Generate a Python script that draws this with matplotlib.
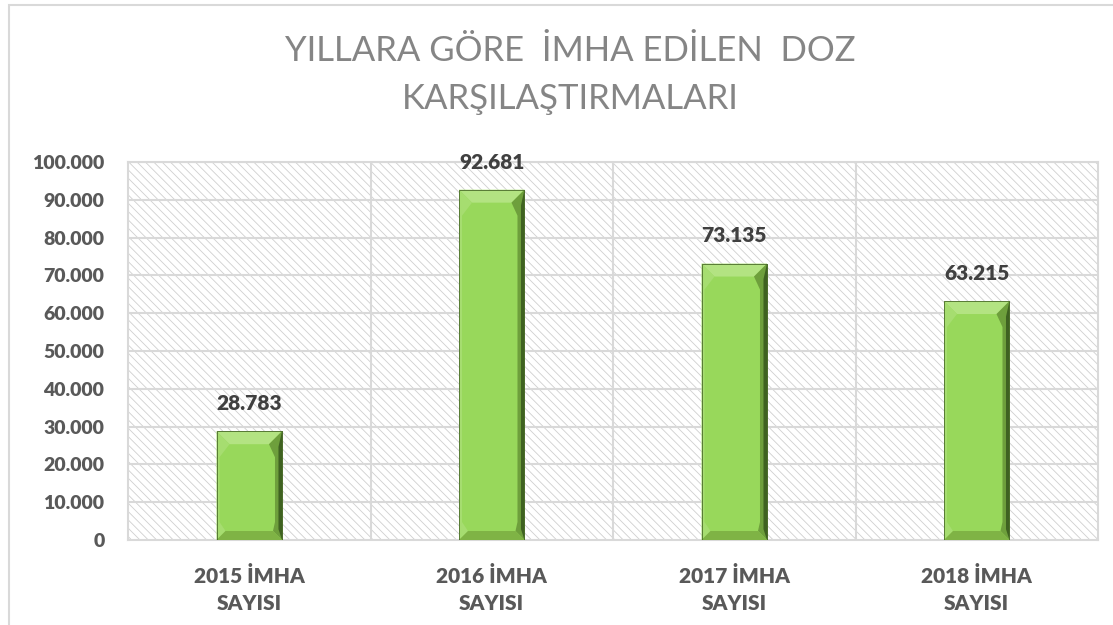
import numpy as np
import matplotlib.pyplot as plt
from matplotlib.patches import Rectangle, Polygon

plt.rcParams['font.family'] = ['Lato', 'DejaVu Sans']
plt.rcParams['hatch.linewidth'] = 0.6

# veriler
categories = ['2015 İMHA\nSAYISI', '2016 İMHA\nSAYISI', '2017 İMHA\nSAYISI', '2018 İMHA\nSAYISI']
values = [28783, 92681, 73135, 63215]
value_labels = ['28.783', '92.681', '73.135', '63.215']
y_ticks = [0, 10000, 20000, 30000, 40000, 50000, 60000, 70000, 80000, 90000, 100000]
y_tick_labels = ['0', '10.000', '20.000', '30.000', '40.000', '50.000',
                 '60.000', '70.000', '80.000', '90.000', '100.000']
title = 'YILLARA GÖRE  İMHA EDİLEN  DOZ\nKARŞILAŞTIRMALARI'

W, H = 1113, 625
fig = plt.figure(figsize=(W / 100, H / 100), dpi=100)
ax = fig.add_axes([128 / W, 1 - 540 / H, 970 / W, 378 / H])

# grafik alanı çerçevesi
fig.add_artist(Rectangle((8.5 / W, -0.1), 1.2, 1 - 4.5 / H + 0.1, transform=fig.transFigure,
                         facecolor='none', edgecolor='#d9d9d9', lw=1.5))

# taralı arka plan
ax.add_patch(Rectangle((0, 0), 1, 1, transform=ax.transAxes, facecolor='white',
                       edgecolor='#d0d0d0', hatch='\\\\\\\\', lw=0, zorder=0))

x = np.arange(len(categories))
ax.set_xlim(-0.5, len(categories) - 0.5)
ax.set_ylim(0, 100000)

for yv in y_ticks[1:]:
    ax.axhline(yv, color='#d9d9d9', lw=1.5, zorder=1)
for xv in x[:-1] + 0.5:
    ax.axvline(xv, color='#d9d9d9', lw=1.5, zorder=1)

bars = ax.bar(x, values, width=0.27, color='#98d85b', edgecolor='#4a6b2a', lw=0.6, zorder=3)

# eğimli kenar efekti
px_x = 1 / 242.5
px_y = 100000 / 378
for b in bars:
    x0, x1 = b.get_x(), b.get_x() + b.get_width()
    y0, y1 = 0, b.get_height()
    sx, sy = 13 * px_x, 13 * px_y
    lx = 3 * px_x
    rx = 7 * px_x
    by = 9 * px_y
    bx = 9 * px_x
    # üst
    ax.add_patch(Polygon([(x0, y1), (x1, y1), (x1 - sx, y1 - sy), (x0 + sx, y1 - sy)],
                         closed=True, facecolor='#b3e382', lw=0, zorder=4))
    # sol
    ax.add_patch(Polygon([(x0, y1), (x0 + sx, y1 - sy), (x0 + lx, y1 - 2 * sy), (x0 + lx, y0 + 2 * by),
                          (x0 + bx, y0 + by), (x0, y0)],
                         closed=True, facecolor='#a6dd70', lw=0, zorder=4))
    # sağ
    ax.add_patch(Polygon([(x1, y1), (x1 - sx, y1 - sy), (x1 - rx, y1 - 2 * sy), (x1 - rx, y0 + 2 * by),
                          (x1 - bx, y0 + by), (x1, y0)],
                         closed=True, facecolor='#6e9f3c', lw=0, zorder=4))
    ax.add_patch(Polygon([(x1, y1), (x1 - rx / 2, y1 - sy * 1.2), (x1 - rx / 2, y0 + by * 1.2), (x1, y0)],
                         closed=True, facecolor='#3f6221', lw=0, zorder=4))
    # alt
    ax.add_patch(Polygon([(x0, y0), (x1, y0), (x1 - bx, y0 + by), (x0 + bx, y0 + by)],
                         closed=True, facecolor='#7fb345', lw=0, zorder=4))
    ax.add_patch(Rectangle((x0, y0), x1 - x0, y1 - y0, facecolor='none',
                           edgecolor='#4a6b2a', lw=0.6, zorder=5))

for xi, v, lab in zip(x, values, value_labels):
    ax.annotate(lab, (xi, v), xytext=(0, 13), textcoords='offset points', ha='center',
                va='bottom', fontsize=15, fontweight='heavy', color='#404040')

ax.set_yticks(y_ticks)
ax.set_yticklabels(y_tick_labels)
ax.set_xticks(x)
ax.set_xticklabels(categories, linespacing=1.45)
ax.tick_params(axis='both', length=0, labelsize=14, labelcolor='#595959')
ax.tick_params(axis='y', pad=17)
ax.tick_params(axis='x', pad=19, labelsize=15)
for lbl in ax.get_xticklabels() + ax.get_yticklabels():
    lbl.set_fontweight('heavy')
for s in ax.spines.values():
    s.set_color('#d9d9d9')
    s.set_linewidth(1.5)

fig.text(570 / W, 1 - 75 / H, title, ha='center', va='center', fontsize=25,
         fontweight='normal', color='#858585', linespacing=1.65)

fig.savefig('out.png', dpi=100)
